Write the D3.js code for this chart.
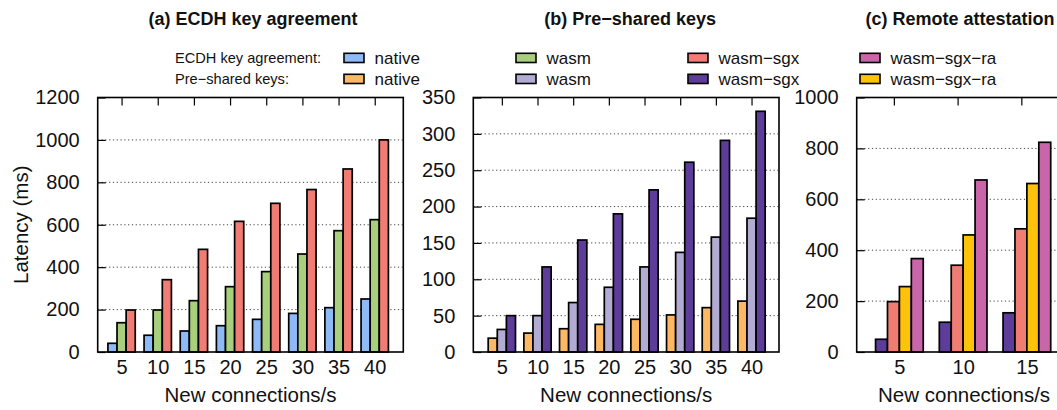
<!DOCTYPE html>
<html>
<head>
<meta charset="utf-8">
<script src="https://cdn.jsdelivr.net/npm/d3@7"></script>
<style>
  html, body { margin: 0; padding: 0; background: #fff; }
  svg { display: block; font-family: "Liberation Sans", Arial, Helvetica, sans-serif; }
</style>
</head>
<body>
<svg id="chart" width="1057" height="410"></svg>
<script>
// ---------------- DATA ----------------
const categories = [5, 10, 15, 20, 25, 30, 35, 40];
const raCategories = [5, 10, 15];

// ECDH key agreement (ms)
const ecdhNative    = [41, 79, 99, 124, 154, 182, 209, 250];
const ecdhWasm      = [138, 198, 242, 308, 379, 462, 572, 624];
const ecdhWasmSgx   = [198, 341, 484, 616, 701, 766, 863, 1000];
const ecdhWasmSgxRa = [367, 676, 824];

// Pre-shared keys (ms)
const pskNative     = [19, 26, 32, 38, 45, 51, 61, 70];
const pskWasm       = [31, 50, 68, 89, 117, 137, 158, 184];
const pskWasmSgx    = [50, 117, 154, 190, 223, 261, 291, 331];
const pskWasmSgxRa  = [257, 460, 662];

const ticksA = [0, 200, 400, 600, 800, 1000, 1200];
const ticksB = [0, 50, 100, 150, 200, 250, 300, 350];
const ticksC = [0, 200, 400, 600, 800, 1000];

const titles = ["(a) ECDH key agreement", "(b) Pre\u2212shared keys", "(c) Remote attestation"];
const xLabel = "New connections/s";
const yLabel = "Latency (ms)";

const colors = {
  ecdhNative: "#8fbaf8", ecdhWasm: "#a8d07c", ecdhWasmSgx: "#f07c73", ecdhWasmSgxRa: "#c965a9",
  pskNative: "#fdb863", pskWasm: "#b2abd2", pskWasmSgx: "#5e3c99", pskWasmSgxRa: "#ffc20a"
};

const legendRows = [
  { header: "ECDH key agreement:", items: [
    ["native", colors.ecdhNative], ["wasm", colors.ecdhWasm],
    ["wasm\u2212sgx", colors.ecdhWasmSgx], ["wasm\u2212sgx\u2212ra", colors.ecdhWasmSgxRa]] },
  { header: "Pre\u2212shared keys:", items: [
    ["native", colors.pskNative], ["wasm", colors.pskWasm],
    ["wasm\u2212sgx", colors.pskWasmSgx], ["wasm\u2212sgx\u2212ra", colors.pskWasmSgxRa]] }
];

// ---------------- LAYOUT ----------------
const plotTop = 97.5, plotBottom = 352;
const panels = [
  { title: titles[0], cats: categories, yMax: 1200, ticks: ticksA,
    xDomain: [-0.66, 7.79], xRange: [97.7, 403.3], bw: 0.252, topTickOffset: 0, titleDx: 2.5,
    series: [[ecdhNative, colors.ecdhNative], [ecdhWasm, colors.ecdhWasm], [ecdhWasmSgx, colors.ecdhWasmSgx]],
    ylabel: true },
  { title: titles[1], cats: categories, yMax: 350, ticks: ticksB,
    xDomain: [-0.8, 7.77], xRange: [473.3, 779], bw: 0.255, topTickOffset: 0, titleDx: 4,
    series: [[pskNative, colors.pskNative], [pskWasm, colors.pskWasm], [pskWasmSgx, colors.pskWasmSgx]],
    ylabel: false },
  { title: titles[2], cats: raCategories, yMax: 1000, ticks: ticksC,
    xDomain: [-0.67, 2.7], xRange: [856.7, 1071.5], bw: 0.187, topTickOffset: -0.087, titleDx: -4,
    series: [[pskWasmSgx.slice(0, 3), colors.pskWasmSgx], [ecdhWasmSgx.slice(0, 3), colors.ecdhWasmSgx],
             [pskWasmSgxRa, colors.pskWasmSgxRa], [ecdhWasmSgxRa, colors.ecdhWasmSgxRa]],
    ylabel: false }
];

const svg = d3.select("#chart");
svg.append("rect").attr("width", 1057).attr("height", 410).attr("fill", "#fff");

panels.forEach(p => {
  const g = svg.append("g");
  const x = d3.scaleLinear().domain(p.xDomain).range(p.xRange);
  const y = d3.scaleLinear().domain([0, p.yMax]).range([plotBottom, plotTop]);
  const idx = p.cats.map((_, i) => i);

  // grid lines
  g.append("g").selectAll("line")
    .data(p.ticks.filter(t => t > 0 && t < p.yMax))
    .join("line")
    .attr("x1", p.xRange[0]).attr("x2", p.xRange[1])
    .attr("y1", d => y(d)).attr("y2", d => y(d))
    .attr("stroke", "#444").attr("stroke-width", 1)
    .attr("stroke-dasharray", "1.2,2.6");

  // bars
  const n = p.series.length;
  const bwPx = x(p.bw) - x(0);
  p.series.forEach(([vals, col], j) => {
    g.append("g").selectAll("rect")
      .data(vals)
      .join("rect")
      .attr("x", (d, i) => x(i + (j - (n - 1) / 2) * p.bw) - bwPx / 2)
      .attr("width", bwPx)
      .attr("y", d => y(d))
      .attr("height", d => y(0) - y(d))
      .attr("fill", col)
      .attr("stroke", "#000")
      .attr("stroke-width", 1.7);
  });

  // y axis (labels + inward ticks)
  const yAxis = g.append("g")
    .attr("transform", `translate(${p.xRange[0]},0)`)
    .call(d3.axisLeft(y).tickValues(p.ticks).tickSize(-8).tickPadding(18).tickFormat(d3.format("d")));
  yAxis.select(".domain").remove();
  yAxis.selectAll("line").attr("stroke", "#000").attr("stroke-width", 1.2);
  yAxis.selectAll("text").attr("font-size", 20).attr("fill", "#111")
    .attr("font-family", "'Liberation Sans', Arial, sans-serif");

  // top ticks (mirror)
  const tAxis = g.append("g")
    .attr("transform", `translate(0,${plotTop})`)
    .call(d3.axisTop(x).tickValues(idx.map(i => i + p.topTickOffset)).tickSize(-8).tickFormat(""));
  tAxis.select(".domain").remove();
  tAxis.selectAll("line").attr("stroke", "#000").attr("stroke-width", 1.2);

  // bottom category labels
  const bAxis = g.append("g")
    .attr("transform", `translate(0,${plotBottom})`)
    .call(d3.axisBottom(x).tickValues(idx).tickSize(0).tickPadding(8).tickFormat(i => p.cats[i]));
  bAxis.select(".domain").remove();
  bAxis.selectAll("text").attr("font-size", 20).attr("fill", "#111")
    .attr("font-family", "'Liberation Sans', Arial, sans-serif");

  // frame
  g.append("rect")
    .attr("x", p.xRange[0]).attr("y", plotTop)
    .attr("width", p.xRange[1] - p.xRange[0]).attr("height", plotBottom - plotTop)
    .attr("fill", "none").attr("stroke", "#000").attr("stroke-width", 1.6);

  const cx = (p.xRange[0] + p.xRange[1]) / 2;
  // x label
  g.append("text").attr("x", cx).attr("y", 401.5)
    .attr("text-anchor", "middle").attr("font-size", 20.5).attr("fill", "#111")
    .text(xLabel);
  // title
  g.append("text").attr("x", cx + p.titleDx).attr("y", 25)
    .attr("text-anchor", "middle").attr("font-size", 18).attr("font-weight", "bold").attr("fill", "#111")
    .text(p.title);
  if (p.ylabel) {
    g.append("text")
      .attr("transform", `translate(28,${(plotTop + plotBottom) / 2}) rotate(-90)`)
      .attr("text-anchor", "middle").attr("font-size", 20.5).attr("fill", "#111")
      .text(yLabel);
  }
});

// ---------------- LEGEND ----------------
const legend = svg.append("g");
const legX0 = 344, legStep = 172, rowY = [53.3, 74.3];
legendRows.forEach((row, r) => {
  legend.append("text").attr("x", 175).attr("y", rowY[r] + 10)
    .attr("font-size", 14.6).attr("fill", "#111").text(row.header);
  row.items.forEach(([label, col], k) => {
    const lx = legX0 + k * legStep;
    legend.append("rect").attr("x", lx).attr("y", rowY[r]).attr("width", 20).attr("height", 9.2)
      .attr("fill", col).attr("stroke", "#000").attr("stroke-width", 1.6);
    legend.append("text").attr("x", lx + 30.5).attr("y", rowY[r] + 10.3)
      .attr("font-size", 17).attr("fill", "#111").text(label);
  });
});
</script>
</body>
</html>
